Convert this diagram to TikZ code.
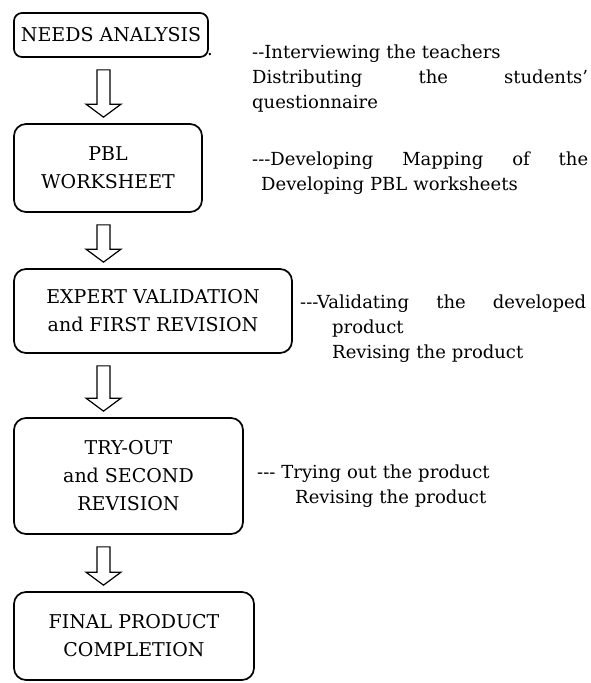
\documentclass[tikz,border=0pt]{standalone}
\usepackage{fontspec}
\setmainfont{DejaVu Serif}
\usetikzlibrary{calc}
\tikzstyle{stage} = [rectangle, rounded corners=12pt, draw=black, line width=1.7pt, align=center, inner sep=0pt, font=\fontsize{19}{28}\selectfont]
\tikzstyle{note} = [anchor=base west, align=left, inner sep=0pt, font=\fontsize{18}{25}\selectfont]
\tikzstyle{fat} = [draw=black, fill=white, line width=1.2pt, line join=miter]
% hollow block arrow from one stage down to the next
\newcommand{\fatarrow}[2]{%
  \draw[fat] let \p1=($(#1.south -| ax)+(0,12)$), \p2=($(#2.north -| ax)+(0,-6)$) in
    (\x1-6.5pt,\y1) -- (\x1+6.5pt,\y1) -- (\x1+6.5pt,\y2+13pt) -- (\x1+17.5pt,\y2+13pt)
    -- (\x1,\y2) -- (\x1-17.5pt,\y2+13pt) -- (\x1-6.5pt,\y2+13pt) -- cycle;}

\begin{document}
\begin{tikzpicture}[x=1pt,y=-1pt]
\useasboundingbox (0,0) rectangle (591,683);
\coordinate (ax) at (103.5,0);
% stages
\node[stage, rounded corners=8pt, minimum width=194pt, minimum height=44pt] (needs) at (111,35) {NEEDS ANALYSIS};
\node[stage, minimum width=188pt, minimum height=88pt] (pbl) at (108,168) {PBL\\WORKSHEET};
\node[stage, minimum width=278pt, minimum height=84pt] (expert) at (153,311) {EXPERT VALIDATION\\and FIRST REVISION};
\node[stage, minimum width=229pt, minimum height=116pt] (tryout) at (128.5,476) {TRY-OUT\\and SECOND\\REVISION};
\node[stage, minimum width=240pt, minimum height=88pt] (final) at (134,636) {FINAL PRODUCT\\COMPLETION};
\node[note] (stray) at (207,55) {.};
% activities
\node[note, text width=336pt] (needsnote) at (252,58) {-{}-Interviewing the teachers\\
  Distributing\hfill the\hfill students'\\
  questionnaire};
\node[note, text width=336pt] (pblnote) at (252,165) {-{}-{}-Developing\hfill Mapping\hfill of\hfill the\\
  \hspace*{9pt}Developing PBL worksheets};
\node[note, text width=286pt] (expertnote) at (300,308) {-{}-{}-Validating\hfill the\hfill developed\\
  \hspace*{32pt}product\\
  \hspace*{32pt}Revising the product};
\node[note, text width=300pt] (tryoutnote) at (257,478) {-{}-{}- Trying out the product\\
  \hspace*{38pt}Revising the product};
% arrows
\fatarrow{needs}{pbl}
\fatarrow{pbl}{expert}
\fatarrow{expert}{tryout}
\fatarrow{tryout}{final}
\end{tikzpicture}
\end{document}
